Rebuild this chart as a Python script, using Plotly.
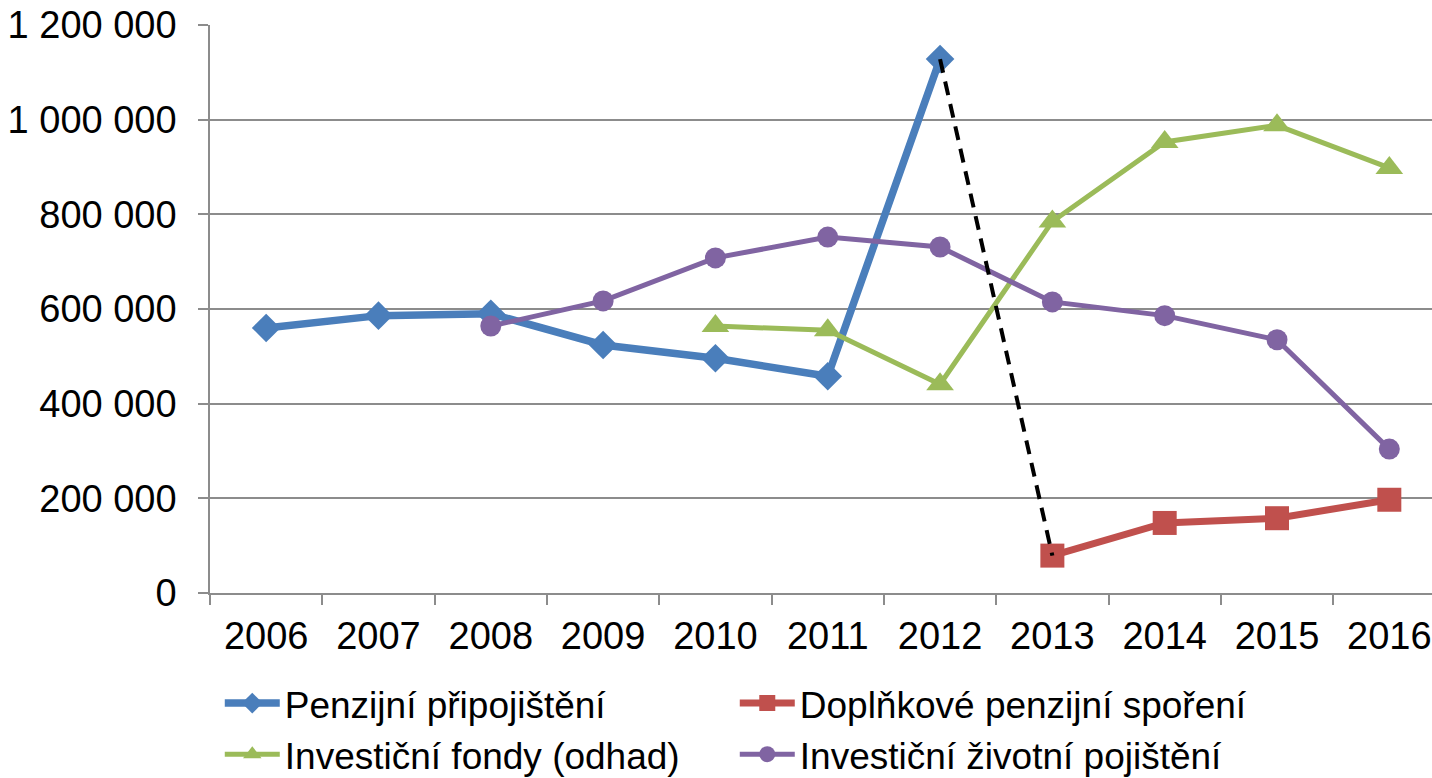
import plotly.graph_objects as go

years = ["2006", "2007", "2008", "2009", "2010", "2011", "2012", "2013", "2014", "2015", "2016"]

penzijni_pripojisteni = [560000, 586000, 590000, 524000, 496000, 458000, 1128000, None, None, None, None]
doplnkove_sporeni = [None, None, None, None, None, None, None, 79000, 148000, 158000, 197000]
investicni_fondy = [None, None, None, None, 564000, 555000, 441000, 785000, 953000, 988000, 898000]
investicni_zivotni = [None, None, 564000, 617000, 708000, 752000, 731000, 615000, 586000, 535000, 304000]

names = ["Penzijní připojištění", "Doplňkové penzijní spoření",
         "Investiční fondy (odhad)", "Investiční životní pojištění"]

y_ticks = [0, 200000, 400000, 600000, 800000, 1000000, 1200000]
y_tick_labels = ["0", "200 000", "400 000", "600 000", "800 000", "1 000 000", "1 200 000"]

font = "Liberation Sans, Arial, sans-serif"
grid = "#8c8c8c"

fig = go.Figure()
fig.add_trace(go.Scatter(x=years, y=penzijni_pripojisteni, name=names[0], mode="lines+markers",
                         line=dict(color="#4a7ebb", width=7.5),
                         marker=dict(symbol="diamond", size=22, color="#4a7ebb")))
fig.add_trace(go.Scatter(x=years, y=doplnkove_sporeni, name=names[1], mode="lines+markers",
                         line=dict(color="#c0504d", width=7),
                         marker=dict(symbol="square", size=24, color="#c0504d")))
fig.add_trace(go.Scatter(x=years, y=investicni_fondy, name=names[2], mode="lines+markers",
                         line=dict(color="#9bbb59", width=5),
                         marker=dict(symbol="triangle-up", size=24, color="#9bbb59")))
fig.add_trace(go.Scatter(x=years, y=investicni_zivotni, name=names[3], mode="lines+markers",
                         line=dict(color="#8064a2", width=5),
                         marker=dict(symbol="circle", size=21, color="#8064a2")))
# connector between the end of one series and the start of the next
fig.add_trace(go.Scatter(x=[years[6], years[7]], y=[penzijni_pripojisteni[6], doplnkove_sporeni[7]],
                         mode="lines", showlegend=False, hoverinfo="skip",
                         line=dict(color="black", width=4, dash="14px,9px")))

fig.update_layout(
    width=1432, height=778,
    margin=dict(l=210, r=0, t=25, b=185, autoexpand=False),
    paper_bgcolor="white", plot_bgcolor="white",
    font=dict(family=font, size=38, color="black"),
    legend=dict(orientation="h", x=0.008, y=-0.14, xanchor="left", yanchor="top",
                entrywidth=445, entrywidthmode="pixels", itemwidth=55,
                font=dict(size=37, family=font), bgcolor="rgba(0,0,0,0)",
                traceorder="normal"),
    xaxis=dict(type="category", range=[-0.5, 10.38], showgrid=False,
               showline=True, linecolor=grid, linewidth=1.5,
               ticks="outside", ticklen=10, tickcolor=grid, tickwidth=1.5,
               tickson="boundaries", tickfont=dict(size=38),
               ticklabelstandoff=9, automargin=False),
    yaxis=dict(range=[0, 1200000], tickvals=y_ticks, ticktext=y_tick_labels,
               showgrid=True, gridcolor=grid, gridwidth=1.5,
               showline=True, linecolor=grid, linewidth=1.5, zeroline=False,
               ticks="outside", ticklen=10, tickcolor=grid, tickwidth=1.5,
               ticklabelstandoff=14, tickfont=dict(size=38), automargin=False),
)

fig.write_html("out.html", config={"displayModeBar": False},
               post_script="document.body.style.margin='0';document.body.style.overflow='hidden';")
